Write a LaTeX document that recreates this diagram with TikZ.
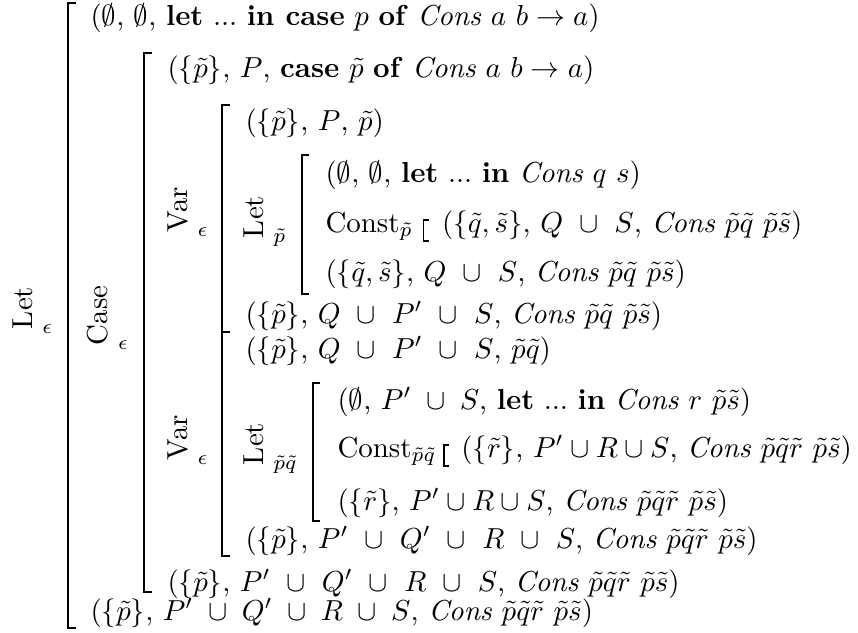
\documentclass[tikz,border=0pt]{standalone}
\usepackage{amssymb}
\usetikzlibrary{calc,positioning}
\tikzset{
myBracket/.style={
	line width=0.85pt, line cap=butt
}
, mySmallBracket/.style={
	line width=0.6pt, line cap=butt
}
, myLine/.style={
	anchor=base west, inner sep=0pt
}
, myRule/.style={
	anchor=base west, inner sep=0pt
}
}

\begin{document}
\begin{tikzpicture}[x=0.346pt,y=-0.346pt]
	\useasboundingbox (0,0) rectangle (858,632);
	% rule names
	\node[myRule] (RLet)  at ( 12,329) {\rotatebox{90}{Let}\ $_{\epsilon}$};
	\node[myRule] (RCase) at ( 87,345) {\rotatebox{90}{Case}\ $_{\epsilon}$};
	\node[myRule] (RVarA) at (167,232) {\rotatebox{90}{Var}\ $_{\epsilon}$};
	\node[myRule] (RLetA) at (243,238) {\rotatebox{90}{Let}\ $_{\tilde{p}}$};
	\node[myRule] (RVarB) at (167,460) {\rotatebox{90}{Var}\ $_{\epsilon}$};
	\node[myRule] (RLetB) at (243,465) {\rotatebox{90}{Let}\ $_{\tilde{p}\tilde{q}}$};
	% judgements
	\node[myLine] (L1) at ( 90, 26) {($\emptyset$, $\emptyset$, \textbf{let}~...~\textbf{in case} $p$ \textbf{of} \textit{Cons} $a$ $b \rightarrow a$)};
	\node[myLine] (L2) at (167, 78) {($\{\tilde{p}\}$, $P$, \textbf{case} $\tilde{p}$ \textbf{of} \textit{Cons} $a$ $b \rightarrow a$)};
	\node[myLine] (L3) at (245,130) {($\{\tilde{p}\}$, $P$, $\tilde{p}$)};
	\node[myLine] (L4) at (325,182) {($\emptyset$, $\emptyset$, \textbf{let}~...~\textbf{in} \textit{Cons} $q$ $s$)};
	\node[myLine] (C1) at (325,232) {Const$_{\tilde{p}}$};
	\node[myLine,xshift=28*0.346pt] (L5) at (C1.base east) {($\{\tilde{q}, \tilde{s}\}$, $Q\ \cup\ S$, \textit{Cons} $\tilde{p}\tilde{q}$ $\tilde{p}\tilde{s}$)};
	\node[myLine] (L6) at (325,281) {($\{\tilde{q}, \tilde{s}\}$, $Q\ \cup\ S$, \textit{Cons} $\tilde{p}\tilde{q}$ $\tilde{p}\tilde{s}$)};
	\node[myLine] (L7) at (245,323) {($\{\tilde{p}\}$, $Q\ \cup\ P'\ \cup\ S$, \textit{Cons} $\tilde{p}\tilde{q}$ $\tilde{p}\tilde{s}$)};
	\node[myLine] (L8) at (245,358) {($\{\tilde{p}\}$, $Q\ \cup\ P'\ \cup\ S$, $\tilde{p}\tilde{q}$)};
	\node[myLine] (L9) at (337,409) {($\emptyset$, $P'\;\cup\;S$, \textbf{let}~...~\textbf{in} \textit{Cons} $r$ $\tilde{p}\tilde{s}$)};
	\node[myLine] (C2) at (337,457) {Const$_{\tilde{p}\tilde{q}}$};
	\node[myLine,xshift=24*0.346pt] (L10) at (C2.base east) {($\{\tilde{r}\}$, $P' \cup R \cup S$, \textit{Cons} $\tilde{p}\tilde{q}\tilde{r}$ $\tilde{p}\tilde{s}$)};
	\node[myLine] (L11) at (337,510) {($\{\tilde{r}\}$, $P' \cup R \cup S$, \textit{Cons} $\tilde{p}\tilde{q}\tilde{r}$ $\tilde{p}\tilde{s}$)};
	\node[myLine] (L12) at (245,548) {($\{\tilde{p}\}$, $P'\ \cup\ Q'\ \cup\ R\ \cup\ S$, \textit{Cons} $\tilde{p}\tilde{q}\tilde{r}$ $\tilde{p}\tilde{s}$)};
	\node[myLine] (L13) at (167,591) {($\{\tilde{p}\}$, $P'\ \cup\ Q'\ \cup\ R\ \cup\ S$, \textit{Cons} $\tilde{p}\tilde{q}\tilde{r}$ $\tilde{p}\tilde{s}$)};
	\node[myLine] (L14) at ( 90,620) {($\{\tilde{p}\}$, $P'\;\cup\;Q'\;\cup\;R\;\cup\;S$, \textit{Cons} $\tilde{p}\tilde{q}\tilde{r}$ $\tilde{p}\tilde{s}$)};
	% brackets
	\draw[myBracket] (76,3) -| (68,628) -- (76,628);
	\draw[myBracket] (152,53) -| (144,592) -- (152,592);
	\draw[myBracket] (230,105) -| (222,332) -- (230,332);
	\draw[myBracket] (230,332) -| (222,556) -- (230,556);
	\draw[myBracket] (309,155) -| (302,294) -- (309,294);
	\draw[myBracket] (320,383) -| (313,521) -- (320,521);
	\draw[mySmallBracket] ($(C1.base east)+(15,-12)$) -| ($(C1.base east)+(10,9)$) -- ++(5,0);
	\draw[mySmallBracket] ($(C2.base east)+(12,-12)$) -| ($(C2.base east)+(7,9)$) -- ++(5,0);
\end{tikzpicture}
\end{document}
